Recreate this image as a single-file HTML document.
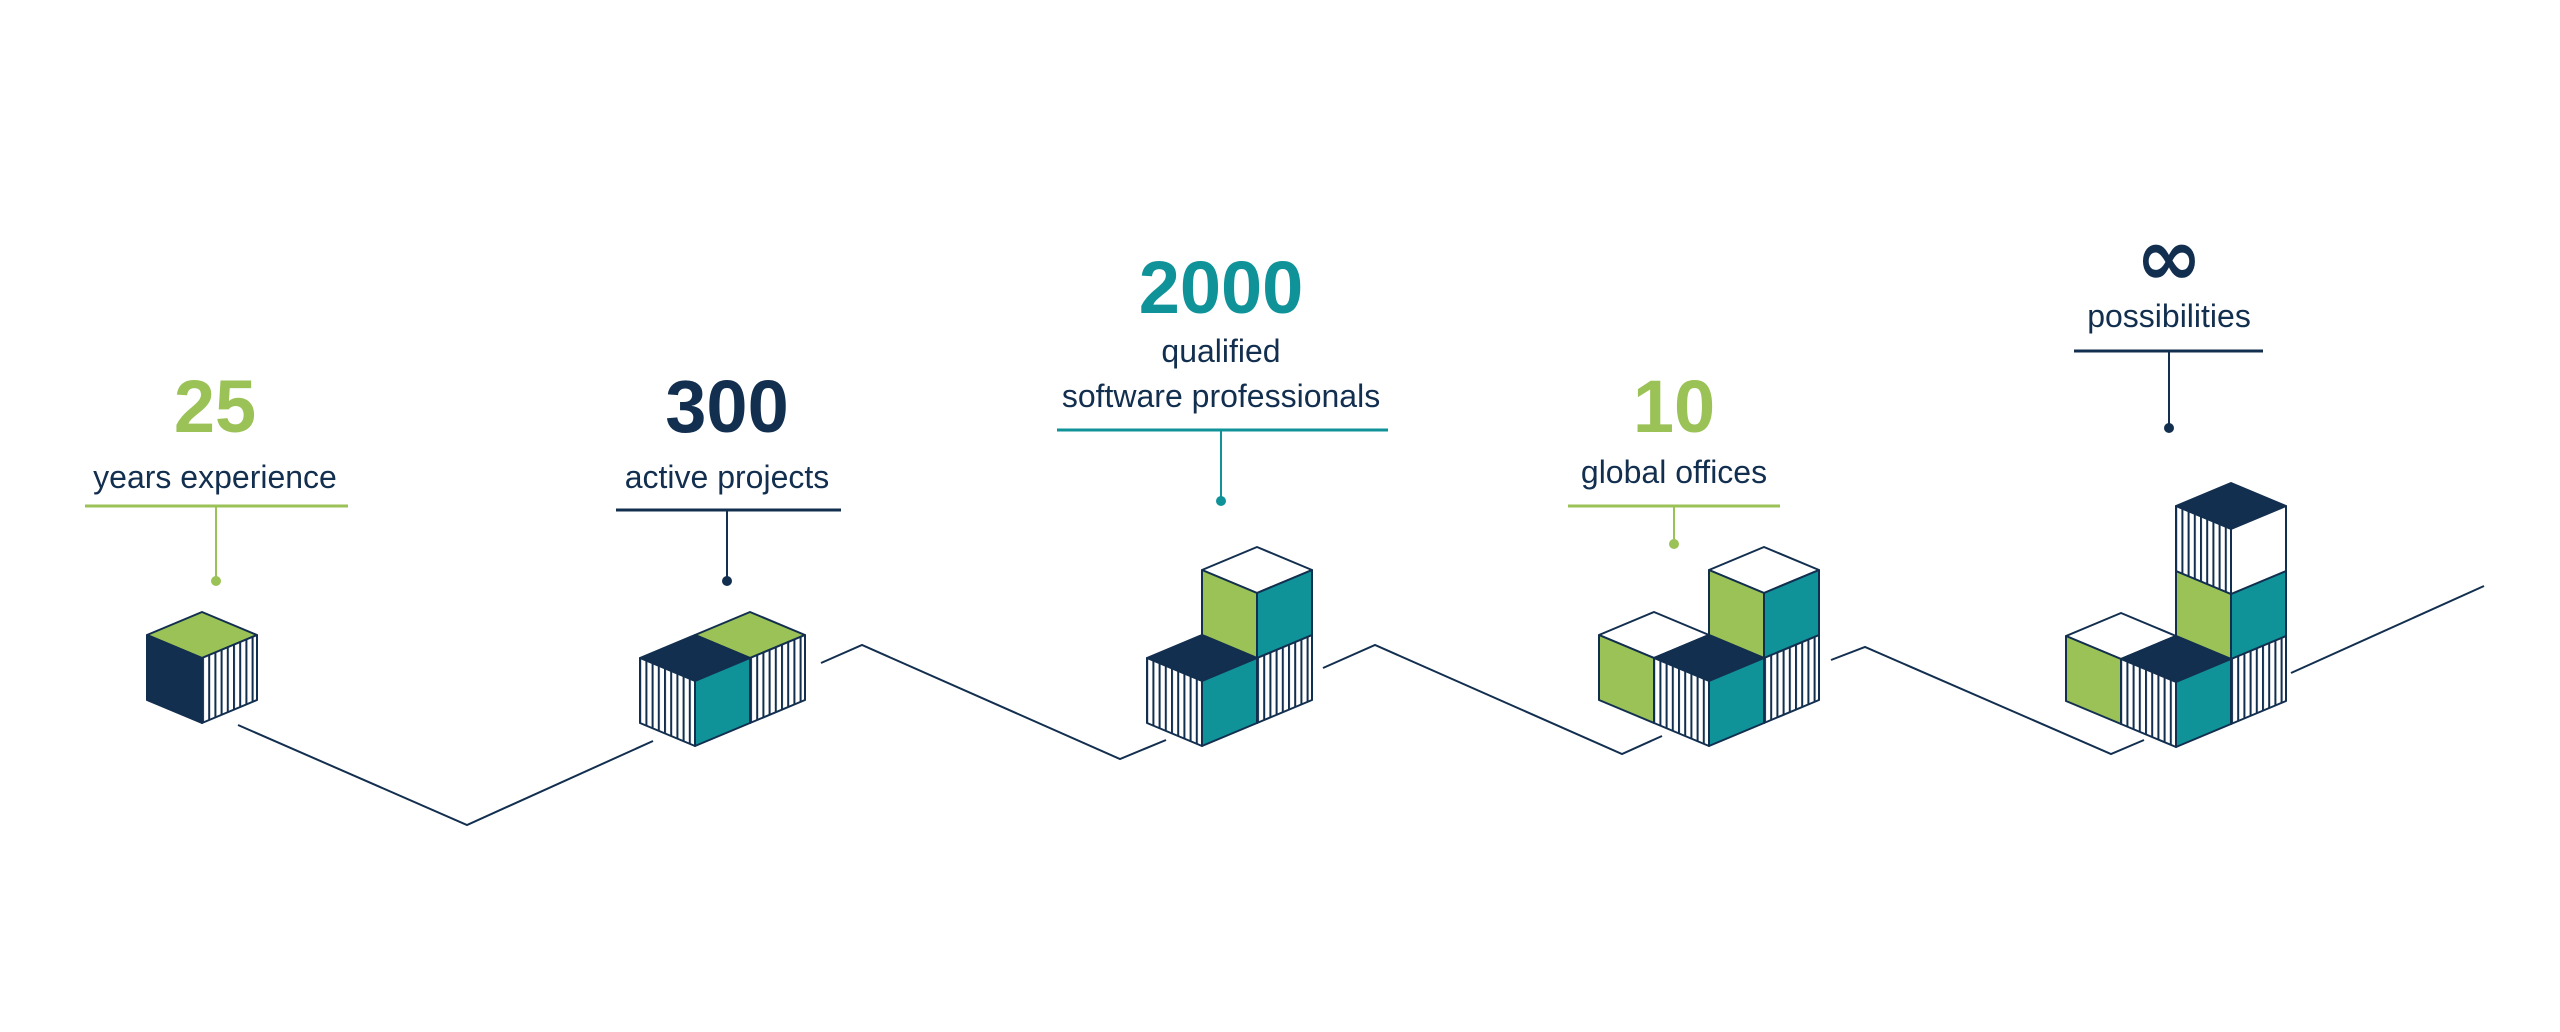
<!DOCTYPE html>
<html><head><meta charset="utf-8"><style>
html,body{margin:0;padding:0;background:#fff;}
svg{display:block;}
.num{font-family:"Liberation Sans",sans-serif;font-weight:bold;font-size:74px;text-anchor:middle;}
.lbl{font-family:"Liberation Sans",sans-serif;font-size:32px;fill:#132f4f;text-anchor:middle;}
</style></head><body>
<svg width="2560" height="1032" viewBox="0 0 2560 1032" xmlns="http://www.w3.org/2000/svg">
<defs>
<pattern id="st" patternUnits="userSpaceOnUse" width="6.2" height="10">
<rect width="6.2" height="10" fill="#fff"/><rect x="0" width="2" height="10" fill="#132f4f"/>
</pattern>
</defs>
<g fill="none" stroke="#132f4f" stroke-width="2">
<polyline points="238,725 467,825 653,741"/>
<polyline points="821,663 862,645 1120,759 1166,740"/>
<polyline points="1323,668 1375,645 1622,754 1662,736"/>
<polyline points="1831,660 1865,647 2111,754 2144,740"/>
<polyline points="2291,673 2484,586"/>
</g>

<g stroke="#132f4f" stroke-width="2" stroke-linejoin="round">
<!-- cube 1 -->
<g transform="translate(202,612)"><polygon points="0,0 55,23 0,46 -55,23" fill="#9bc257"/><polygon points="-55,23 0,46 0,111 -55,88" fill="#132f4f"/><polygon points="0,46 55,23 55,88 0,111" fill="url(#st)"/></g>
<!-- group 2 -->
<g transform="translate(750,612)"><polygon points="0,0 55,23 0,46 -55,23" fill="#9bc257"/><polygon points="-55,23 0,46 0,111 -55,88" fill="#132f4f"/><polygon points="0,46 55,23 55,88 0,111" fill="url(#st)"/></g>
<g transform="translate(695,635)"><polygon points="0,0 55,23 0,46 -55,23" fill="#132f4f"/><polygon points="-55,23 0,46 0,111 -55,88" fill="url(#st)"/><polygon points="0,46 55,23 55,88 0,111" fill="#0f9399"/></g>
<!-- group 3 -->
<g transform="translate(1257,612)"><polygon points="0,0 55,23 0,46 -55,23" fill="#fff"/><polygon points="-55,23 0,46 0,111 -55,88" fill="#fff"/><polygon points="0,46 55,23 55,88 0,111" fill="url(#st)"/></g>
<g transform="translate(1257,547)"><polygon points="0,0 55,23 0,46 -55,23" fill="#fff"/><polygon points="-55,23 0,46 0,111 -55,88" fill="#9bc257"/><polygon points="0,46 55,23 55,88 0,111" fill="#0f9399"/></g>
<g transform="translate(1202,635)"><polygon points="0,0 55,23 0,46 -55,23" fill="#132f4f"/><polygon points="-55,23 0,46 0,111 -55,88" fill="url(#st)"/><polygon points="0,46 55,23 55,88 0,111" fill="#0f9399"/></g>
<!-- group 4 -->
<g transform="translate(1764,612)"><polygon points="0,0 55,23 0,46 -55,23" fill="#fff"/><polygon points="-55,23 0,46 0,111 -55,88" fill="#fff"/><polygon points="0,46 55,23 55,88 0,111" fill="url(#st)"/></g>
<g transform="translate(1764,547)"><polygon points="0,0 55,23 0,46 -55,23" fill="#fff"/><polygon points="-55,23 0,46 0,111 -55,88" fill="#9bc257"/><polygon points="0,46 55,23 55,88 0,111" fill="#0f9399"/></g>
<g transform="translate(1654,612)"><polygon points="0,0 55,23 0,46 -55,23" fill="#fff"/><polygon points="-55,23 0,46 0,111 -55,88" fill="#9bc257"/><polygon points="0,46 55,23 55,88 0,111" fill="#fff"/></g>
<g transform="translate(1709,635)"><polygon points="0,0 55,23 0,46 -55,23" fill="#132f4f"/><polygon points="-55,23 0,46 0,111 -55,88" fill="url(#st)"/><polygon points="0,46 55,23 55,88 0,111" fill="#0f9399"/></g>
<!-- group 5 -->
<g transform="translate(2231,613)"><polygon points="0,0 55,23 0,46 -55,23" fill="#fff"/><polygon points="-55,23 0,46 0,111 -55,88" fill="#fff"/><polygon points="0,46 55,23 55,88 0,111" fill="url(#st)"/></g>
<g transform="translate(2231,548)"><polygon points="0,0 55,23 0,46 -55,23" fill="#fff"/><polygon points="-55,23 0,46 0,111 -55,88" fill="#9bc257"/><polygon points="0,46 55,23 55,88 0,111" fill="#0f9399"/></g>
<g transform="translate(2231,483)"><polygon points="0,0 55,23 0,46 -55,23" fill="#132f4f"/><polygon points="-55,23 0,46 0,111 -55,88" fill="url(#st)"/><polygon points="0,46 55,23 55,88 0,111" fill="#fff"/></g>
<g transform="translate(2121,613)"><polygon points="0,0 55,23 0,46 -55,23" fill="#fff"/><polygon points="-55,23 0,46 0,111 -55,88" fill="#9bc257"/><polygon points="0,46 55,23 55,88 0,111" fill="#fff"/></g>
<g transform="translate(2176,636)"><polygon points="0,0 55,23 0,46 -55,23" fill="#132f4f"/><polygon points="-55,23 0,46 0,111 -55,88" fill="url(#st)"/><polygon points="0,46 55,23 55,88 0,111" fill="#0f9399"/></g>
</g>

<!-- labels -->
<text class="num" x="215" y="432" fill="#9bc257">25</text>
<text class="lbl" x="215" y="488">years experience</text>
<line x1="85" y1="506" x2="348" y2="506" stroke="#9bc257" stroke-width="3"/>
<line x1="216" y1="506" x2="216" y2="581" stroke="#9bc257" stroke-width="2"/>
<circle cx="216" cy="581" r="5" fill="#9bc257"/>

<text class="num" x="727" y="432" fill="#132f4f">300</text>
<text class="lbl" x="727" y="488">active projects</text>
<line x1="616" y1="510" x2="841" y2="510" stroke="#132f4f" stroke-width="3"/>
<line x1="727" y1="510" x2="727" y2="581" stroke="#132f4f" stroke-width="2"/>
<circle cx="727" cy="581" r="5" fill="#132f4f"/>

<text class="num" x="1221" y="313" fill="#0f9399">2000</text>
<text class="lbl" x="1221" y="362">qualified</text>
<text class="lbl" x="1221" y="407">software professionals</text>
<line x1="1057" y1="430" x2="1388" y2="430" stroke="#0f9399" stroke-width="3"/>
<line x1="1221" y1="430" x2="1221" y2="501" stroke="#0f9399" stroke-width="2"/>
<circle cx="1221" cy="501" r="5" fill="#0f9399"/>

<text class="num" x="1674" y="432" fill="#9bc257">10</text>
<text class="lbl" x="1674" y="483">global offices</text>
<line x1="1568" y1="506" x2="1780" y2="506" stroke="#9bc257" stroke-width="3"/>
<line x1="1674" y1="506" x2="1674" y2="544" stroke="#9bc257" stroke-width="2"/>
<circle cx="1674" cy="544" r="5" fill="#9bc257"/>

<text class="num" x="2169" y="285" fill="#132f4f" style="font-family:'DejaVu Sans',sans-serif;font-size:80px">∞</text>
<text class="lbl" x="2169" y="327">possibilities</text>
<line x1="2074" y1="351" x2="2263" y2="351" stroke="#132f4f" stroke-width="3"/>
<line x1="2169" y1="351" x2="2169" y2="428" stroke="#132f4f" stroke-width="2"/>
<circle cx="2169" cy="428" r="5" fill="#132f4f"/>
</svg>
</body></html>
